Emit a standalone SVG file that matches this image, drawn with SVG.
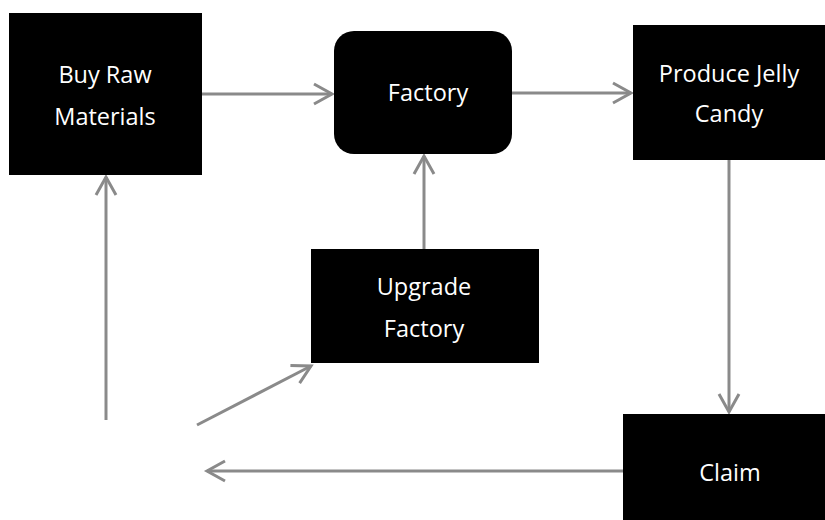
<svg xmlns="http://www.w3.org/2000/svg" width="825" height="520" viewBox="0 0 825 520">
<style>
.box{fill:#000}
.lbl{fill:#fff;font-family:"Open Sans","Noto Sans","Liberation Sans",sans-serif;font-size:23.5px;text-anchor:middle}
.con{stroke:#8a8a8a;stroke-width:3;fill:none}
</style>
<defs>
<marker id="ah" markerUnits="userSpaceOnUse" markerWidth="24" markerHeight="24" viewBox="-20 -12 24 24" refX="0" refY="0" orient="auto">
<path d="M-18,-10 L0,0 L-18,10" fill="none" stroke="#8a8a8a" stroke-width="3"/>
</marker>
</defs>
<rect width="825" height="520" fill="#fff"/>
<g id="connectors">
<line class="con" x1="202" y1="94" x2="332" y2="94" marker-end="url(#ah)"/>
<line class="con" x1="512" y1="93" x2="631" y2="93" marker-end="url(#ah)"/>
<line class="con" x1="424" y1="249" x2="424" y2="156" marker-end="url(#ah)"/>
<line class="con" x1="729" y1="160" x2="729" y2="412" marker-end="url(#ah)"/>
<line class="con" x1="623" y1="471" x2="207" y2="471" marker-end="url(#ah)"/>
<line class="con" x1="106" y1="420" x2="106" y2="177" marker-end="url(#ah)"/>
<line class="con" x1="197" y1="425" x2="311" y2="366" marker-end="url(#ah)"/>
</g>
<g id="buy">
<rect class="box" x="9" y="13" width="193" height="162"/>
<text class="lbl" x="105" y="83">Buy Raw</text>
<text class="lbl" x="105" y="125">Materials</text>
</g>
<g id="factory">
<rect class="box" x="334" y="31" width="178" height="123" rx="20"/>
<text class="lbl" x="428" y="101">Factory</text>
</g>
<g id="produce">
<rect class="box" x="633" y="25" width="192" height="135"/>
<text class="lbl" x="729" y="82">Produce Jelly</text>
<text class="lbl" x="729" y="122">Candy</text>
</g>
<g id="upgrade">
<rect class="box" x="311" y="249" width="228" height="114"/>
<text class="lbl" x="424" y="295">Upgrade</text>
<text class="lbl" x="424" y="337">Factory</text>
</g>
<g id="claim">
<rect class="box" x="623" y="414" width="202" height="106"/>
<text class="lbl" x="730" y="481">Claim</text>
</g>
</svg>
